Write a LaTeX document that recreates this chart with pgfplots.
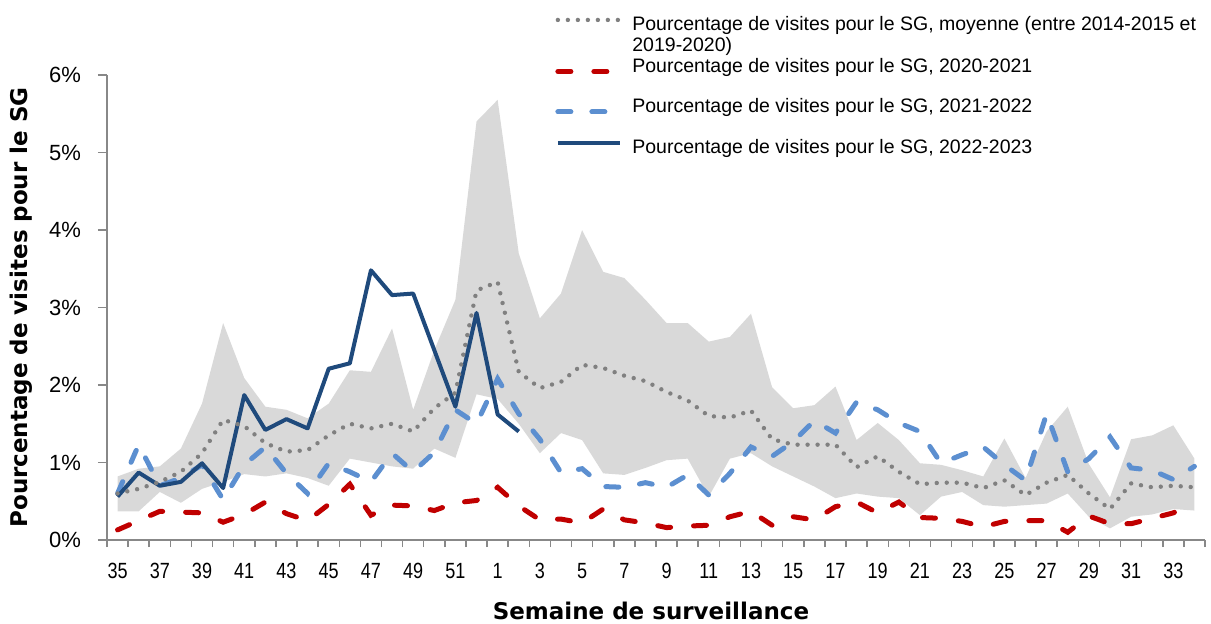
\documentclass[border=0pt]{standalone}
\usepackage{pgfplots}
\pgfplotsset{compat=1.18}
\usepgfplotslibrary{fillbetween}
\usepackage{pgfplotstable}
\usepackage{fontspec}
\setmainfont{Liberation Sans}
\newfontfamily\titlefont{DejaVu Sans}
\newfontfamily\narrowfont{Liberation Sans}[FakeStretch=0.82]
\definecolor{bandc}{HTML}{D9D9D9}
\definecolor{avgc}{HTML}{808080}
\definecolor{redc}{HTML}{C00000}
\definecolor{lbluec}{HTML}{5C8FD0}
\definecolor{dbluec}{HTML}{1F4A7C}
\definecolor{axisgray}{HTML}{888888}

% i = week index: 0..17 -> weeks 35..52, 18..51 -> weeks 1..34
\pgfplotstableread{
i avg r20 b21 up lo
0 0.60 0.13 0.60 0.82 0.37
1 0.66 0.25 1.23 0.92 0.37
2 0.75 0.37 0.70 0.95 0.62
3 0.88 0.36 0.80 1.18 0.48
4 1.12 0.35 0.97 1.76 0.66
5 1.55 0.23 0.52 2.80 0.75
6 1.47 0.33 0.97 2.09 0.85
7 1.25 0.49 1.20 1.72 0.82
8 1.14 0.34 0.86 1.68 0.86
9 1.16 0.25 0.60 1.57 0.80
10 1.35 0.46 0.99 1.76 0.70
11 1.50 0.72 0.88 2.19 1.05
12 1.44 0.32 0.75 2.17 1.00
13 1.50 0.45 1.12 2.73 0.95
14 1.40 0.44 0.88 1.68 0.92
15 1.70 0.38 1.13 2.45 1.18
16 1.90 0.48 1.68 3.10 1.06
17 3.22 0.51 1.50 5.40 1.88
18 3.33 0.68 2.08 5.68 1.82
19 2.17 0.44 1.63 3.70 1.50
20 1.96 0.26 1.30 2.86 1.12
21 2.04 0.27 0.87 3.18 1.38
22 2.26 0.22 0.92 4.00 1.29
23 2.22 0.40 0.69 3.46 0.86
24 2.12 0.26 0.68 3.38 0.84
25 2.05 0.22 0.74 3.10 0.93
26 1.91 0.16 0.68 2.80 1.03
27 1.80 0.18 0.84 2.80 1.05
28 1.60 0.19 0.58 2.56 0.56
29 1.58 0.30 0.86 2.62 1.05
30 1.67 0.37 1.20 2.92 1.12
31 1.30 0.19 1.08 1.97 0.95
32 1.23 0.30 1.27 1.70 0.82
33 1.23 0.26 1.54 1.74 0.69
34 1.23 0.43 1.38 1.98 0.54
35 0.94 0.49 1.78 1.29 0.60
36 1.08 0.35 1.68 1.51 0.56
37 0.88 0.49 1.51 1.29 0.54
38 0.72 0.29 1.40 0.99 0.32
39 0.74 0.28 0.99 0.97 0.56
40 0.74 0.24 1.10 0.90 0.62
41 0.67 0.17 1.20 0.82 0.45
42 0.77 0.24 0.97 1.31 0.43
43 0.58 0.25 0.77 0.80 0.45
44 0.74 0.25 1.63 1.40 0.47
45 0.84 0.10 0.88 1.72 0.60
46 0.60 0.31 1.05 0.98 0.30
47 0.40 0.21 1.33 0.55 0.15
48 0.73 0.21 0.93 1.30 0.30
49 0.68 0.28 0.90 1.35 0.33
50 0.70 0.35 0.78 1.48 0.40
51 0.68 0.50 0.95 1.05 0.38
}\data

\pgfplotstableread{
i b22
0 0.56
1 0.87
2 0.70
3 0.75
4 0.99
5 0.67
6 1.87
7 1.42
8 1.56
9 1.44
10 2.21
11 2.28
12 3.48
13 3.16
14 3.18
15 2.45
16 1.72
17 2.93
18 1.62
19 1.40
}\dataB

\begin{document}
\begin{tikzpicture}
\begin{axis}[
  at={(0pt,0pt)}, anchor=south west,
  scale only axis, width=549pt, height=232.5pt,
  xmin=-0.5, xmax=51.5, ymin=0, ymax=6,
  axis lines*=left,
  axis line style={draw=axisgray, line width=0.75pt},
  xtick={0,2,...,50},
  xticklabels={35,37,39,41,43,45,47,49,51,1,3,5,7,9,11,13,15,17,19,21,23,25,27,29,31,33},
  minor xtick={-0.5,0.5,...,51.5},
  ytick={0,1,...,6},
  yticklabels={0\%,1\%,2\%,3\%,4\%,5\%,6\%},
  tick align=outside,
  major tick length=4.5pt,
  minor tick length=3.5pt,
  major x tick style={draw=none},
  minor x tick style={draw=axisgray, line width=0.75pt},
  y tick style={draw=axisgray, line width=0.75pt},
  xticklabel style={font=\narrowfont\fontsize{11}{13}\selectfont, text=black, yshift=-3.5pt},
  yticklabel style={font=\fontsize{11}{13}\selectfont, text=black, anchor=east, xshift=-5pt},
  xlabel={Semaine de surveillance},
  ylabel={Pourcentage de visites pour le SG},
  label style={font=\titlefont\bfseries\fontsize{11.5}{13}\selectfont, text=black},
  xlabel style={at={(axis description cs:0.4954,0)}, anchor=center, yshift=-35.5pt},
  ylabel style={at={(axis description cs:0,0.5)}, anchor=center, yshift=43pt},
  legend style={at={(axis description cs:0.408,1.129)}, anchor=north west,
    draw=none, fill=none, inner sep=0pt, row sep=0pt, column sep=5pt,
    font=\fontsize{9.75}{11}\selectfont, nodes={inner sep=0pt}},
  legend cell align=left,
  legend image code/.code={\draw[#1] (0pt,3pt) -- (31pt,3pt);},
]
\addplot[name path=up, draw=none, forget plot] table[x=i, y=up]{\data};
\addplot[name path=lo, draw=none, forget plot] table[x=i, y=lo]{\data};
\addplot[fill=bandc, draw=none, forget plot] fill between[of=up and lo];

\addplot[redc, line width=2.5pt, line cap=round, dash pattern=on 6.5pt off 11.5pt, forget plot] table[x=i, y=r20]{\data};
\addplot[lbluec, line width=2.5pt, line cap=round, dash pattern=on 6.5pt off 10.5pt, forget plot] table[x=i, y=b21]{\data};
\addplot[dbluec, line width=2pt, line join=round, forget plot] table[x=i, y=b22]{\dataB};
\addplot[avgc, line width=2.2pt, line cap=round, dash pattern=on 0pt off 5pt, forget plot] table[x=i, y=avg]{\data};

\addlegendimage{avgc, line width=2.2pt, line cap=round, dash pattern=on 0pt off 5pt}
\addlegendentry[text height=7.5pt, text depth=3pt]{Pourcentage de visites pour le SG, moyenne (entre 2014-2015 et}
\addlegendimage{white, line width=0pt, draw opacity=0}
\addlegendentry[text height=7.5pt, text depth=3pt]{2019-2020)}
\addlegendimage{redc, line width=2.5pt, line cap=round, dash pattern=on 6.5pt off 11.5pt}
\addlegendentry[text height=7.5pt, text depth=12.5pt]{Pourcentage de visites pour le SG, 2020-2021}
\addlegendimage{lbluec, line width=2.5pt, line cap=round, dash pattern=on 6.5pt off 10.5pt}
\addlegendentry[text height=7.5pt, text depth=13pt]{Pourcentage de visites pour le SG, 2021-2022}
\addlegendimage{dbluec, line width=2pt}
\addlegendentry[text height=7.5pt, text depth=3pt]{Pourcentage de visites pour le SG, 2022-2023}
\end{axis}
\pgfresetboundingbox
\useasboundingbox (-53.5pt,-41.5pt) rectangle (552pt,270pt);
\end{tikzpicture}
\end{document}
